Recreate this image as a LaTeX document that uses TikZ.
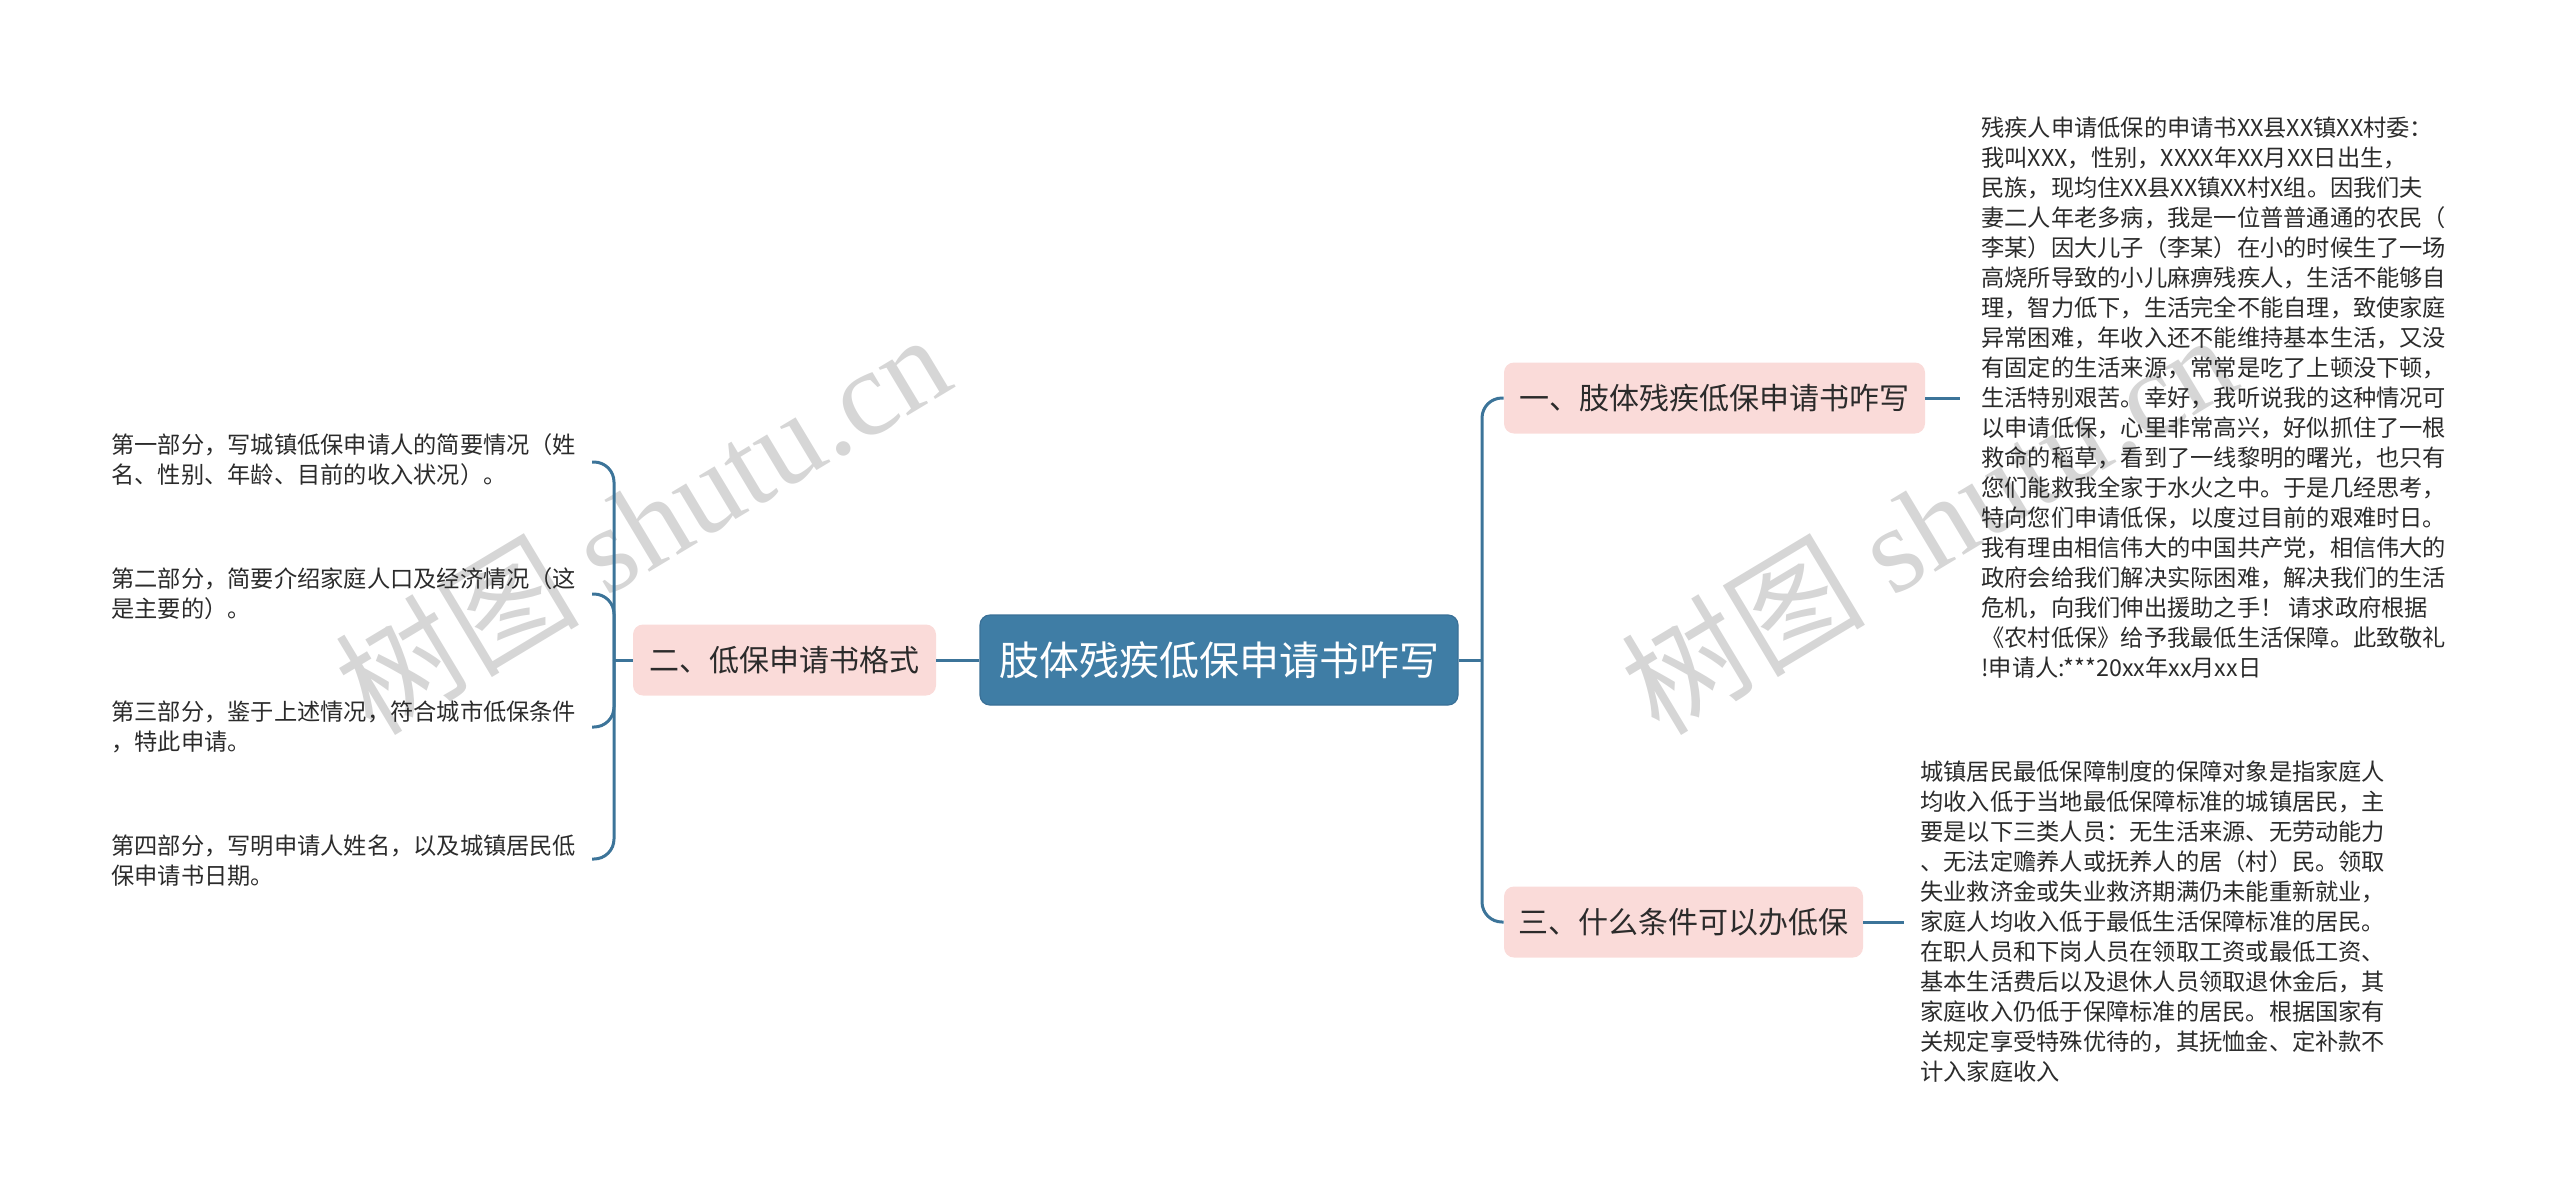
\documentclass[tikz,border=0pt]{standalone}
\usepackage{fontspec}
\setmainfont{Noto Sans CJK SC}
\newfontfamily\wmserif{Liberation Serif}
\definecolor{mainblue}{HTML}{3F7DA5}
\definecolor{mainborder}{HTML}{3A7097}
\definecolor{linecol}{HTML}{3C7499}
\definecolor{pinkfill}{HTML}{FADBD9}
\definecolor{txt}{HTML}{2B2B2B}
\definecolor{wm}{HTML}{D6D6D6}
\tikzset{
  rootnode/.style={draw=mainborder, line width=0.6pt, fill=mainblue, rounded corners=5pt,
    text=white, font=\fontsize{20pt}{24pt}\selectfont, minimum width=239pt, minimum height=45pt, inner sep=0pt},
  subnode/.style={fill=pinkfill, rounded corners=5pt, text=txt,
    font=\fontsize{15pt}{18pt}\selectfont, minimum height=35.5pt, inner sep=0pt},
  leaftext/.style={text=txt, align=left, inner sep=0pt, anchor=west,
    font=\fontsize{11.62pt}{15pt}\selectfont},
  conn/.style={draw=linecol, line width=1.5pt, rounded corners=10pt},
  wmark/.style={text=wm, rotate=31, inner sep=0pt}
}
\begin{document}
\begin{tikzpicture}[x=0.5pt,y=-0.5pt]
\useasboundingbox (0,0) rectangle (2560,1200);
% watermarks
\node[wmark] (wm1) at (642,522) {\fontsize{61pt}{61pt}\selectfont 树图 {\wmserif shutu.cn}};
\node[wmark] (wm2) at (1928,522) {\fontsize{61pt}{61pt}\selectfont 树图 {\wmserif shutu.cn}};

% main nodes
\node[rootnode] (root) at (1219,660) {肢体残疾低保申请书咋写};
\node[subnode, minimum width=151.5pt] (s2) at (784.5,660) {二、低保申请书格式};
\node[subnode, minimum width=210.5pt] (s1) at (1714.5,398) {一、肢体残疾低保申请书咋写};
\node[subnode, minimum width=179.5pt] (s3) at (1683.5,922) {三、什么条件可以办低保};

% right leaves
\node[leaftext] (t1) at (1981,398) {残疾人申请低保的申请书XX县XX镇XX村委：\\
我叫XXX，性别，XXXX年XX月XX日出生，\\
民族，现均住XX县XX镇XX村X组。因我们夫\\
妻二人年老多病，我是一位普普通通的农民（\\
李某）因大儿子（李某）在小的时候生了一场\\
高烧所导致的小儿麻痹残疾人，生活不能够自\\
理，智力低下，生活完全不能自理，致使家庭\\
异常困难，年收入还不能维持基本生活，又没\\
有固定的生活来源，常常是吃了上顿没下顿，\\
生活特别艰苦。幸好，我听说我的这种情况可\\
以申请低保，心里非常高兴，好似抓住了一根\\
救命的稻草，看到了一线黎明的曙光，也只有\\
您们能救我全家于水火之中。于是几经思考，\\
特向您们申请低保，以度过目前的艰难时日。\\
我有理由相信伟大的中国共产党，相信伟大的\\
政府会给我们解决实际困难，解决我们的生活\\
危机，向我们伸出援助之手！\ 请求政府根据\\
《农村低保》给予我最低生活保障。此致敬礼\\
!申请人:***20xx年xx月xx日};
\node[leaftext] (t3) at (1920,922) {城镇居民最低保障制度的保障对象是指家庭人\\
均收入低于当地最低保障标准的城镇居民，主\\
要是以下三类人员：无生活来源、无劳动能力\\
、无法定赡养人或抚养人的居（村）民。领取\\
失业救济金或失业救济期满仍未能重新就业，\\
家庭人均收入低于最低生活保障标准的居民。\\
在职人员和下岗人员在领取工资或最低工资、\\
基本生活费后以及退休人员领取退休金后，其\\
家庭收入仍低于保障标准的居民。根据国家有\\
关规定享受特殊优待的，其抚恤金、定补款不\\
计入家庭收入};

% left leaves
\node[leaftext] (l1) at (111,460) {第一部分，写城镇低保申请人的简要情况（姓\\名、性别、年龄、目前的收入状况）。};
\node[leaftext] (l2) at (111,594) {第二部分，简要介绍家庭人口及经济情况（这\\是主要的）。};
\node[leaftext] (l3) at (111,727) {第三部分，鉴于上述情况，符合城市低保条件\\，特此申请。};
\node[leaftext] (l4) at (111,861) {第四部分，写明申请人姓名，以及城镇居民低\\保申请书日期。};

% junction coordinates
\coordinate (jr) at (1482,660);
\coordinate (jl) at (614,660);
\coordinate (e1) at (1960,398);
\coordinate (e3) at (1904,922);
\coordinate (b1) at (592,462);
\coordinate (b2) at (592,594);
\coordinate (b3) at (592,727);
\coordinate (b4) at (592,859);

% connectors
\draw[conn] (root.east) -- (jr);
\draw[conn] (jr) |- (s1.west);
\draw[conn] (jr) |- (s3.west);
\draw[conn] (root.west) -- (s2.east);
\draw[conn] (s2.west) -- (jl);
\draw[conn] (jl) |- (b1);
\draw[conn] (jl) |- (b2);
\draw[conn] (jl) |- (b3);
\draw[conn] (jl) |- (b4);
\draw[conn] (s1.east) -- (e1);
\draw[conn] (s3.east) -- (e3);
\end{tikzpicture}
\end{document}
